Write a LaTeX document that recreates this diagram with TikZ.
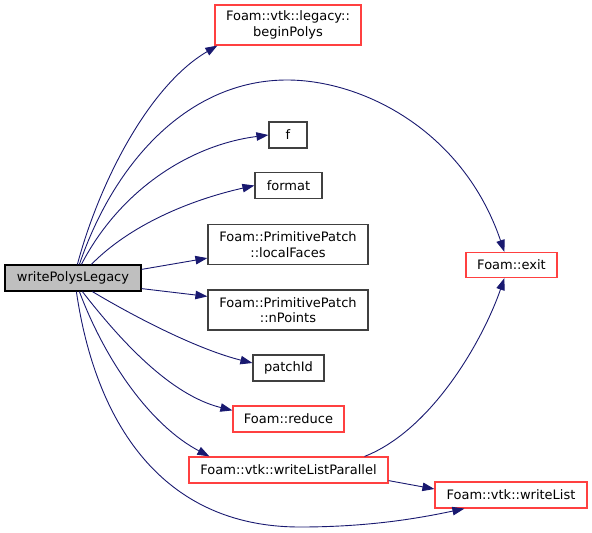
\documentclass[tikz,border=0pt]{standalone}
\usepackage{fontspec}
\setmainfont{DejaVu Sans}
\usetikzlibrary{arrows.meta}
\definecolor{edgec}{RGB}{25,25,112}
\definecolor{redb}{RGB}{255,64,64}
\definecolor{greyb}{RGB}{64,64,64}
\definecolor{mainf}{RGB}{191,191,191}
\begin{document}
\begin{tikzpicture}[x=1pt,y=-1pt,
  box/.style={draw=greyb,line width=1.2pt,fill=white,inner sep=0pt,align=center,
    font=\fontsize{13}{15.5}\selectfont},
  redbox/.style={box,draw=redb},
  mainbox/.style={box,draw=black,fill=mainf},
  edge/.style={draw=edgec,line width=0.9pt,-{Triangle[length=12pt,width=8.5pt]}}]
\useasboundingbox (0,0) rectangle (592,533);
\node[mainbox,minimum width=136pt,minimum height=26pt] (wpl) at (73,278) {writePolysLegacy};
\node[redbox,minimum width=146pt,minimum height=40pt] (bp) at (288,25) {Foam::vtk::legacy::\\beginPolys};
\node[box,minimum width=38pt,minimum height=26pt] (f) at (288,135) {f};
\node[box,minimum width=67pt,minimum height=26pt] (fmt) at (288.5,185.5) {format};
\node[box,minimum width=160pt,minimum height=40pt] (lf) at (288,244.5) {Foam::PrimitivePatch\\::localFaces};
\node[box,minimum width=160pt,minimum height=40pt] (np) at (288,310) {Foam::PrimitivePatch\\::nPoints};
\node[box,minimum width=71pt,minimum height=26pt] (pid) at (288.5,368) {patchId};
\node[redbox,minimum width=111pt,minimum height=26pt] (red) at (288.5,419) {Foam::reduce};
\node[redbox,minimum width=199pt,minimum height=26pt] (wlp) at (288.5,470) {Foam::vtk::writeListParallel};
\node[redbox,minimum width=91pt,minimum height=25pt] (ex) at (511.5,265) {Foam::exit};
\node[redbox,minimum width=152pt,minimum height=26pt] (wl) at (511,495) {Foam::vtk::writeList};

\draw[edge] ([xshift=73pt]wpl.north west) .. controls (100,180) and (150,85) .. ([xshift=3pt]bp.south west);
\draw[edge] ([xshift=75pt]wpl.north west) .. controls (115,160) and (190,80) .. (287,80) .. controls (362,80) and (463,130) .. ([xshift=39pt]ex.north west);
\draw[edge] ([xshift=77pt]wpl.north west) .. controls (120,190) and (190,145) .. (f.west);
\draw[edge] ([xshift=87pt]wpl.north west) .. controls (130,225) and (190,200) .. (fmt.west);
\draw[edge] ([yshift=-5pt]wpl.north east) -- ([yshift=7pt]lf.south west);
\draw[edge] ([yshift=3pt]wpl.south east) -- ([yshift=-7pt]np.north west);
\draw[edge] ([xshift=88pt]wpl.south west) .. controls (140,320) and (200,350) .. ([yshift=5pt]pid.west);
\draw[edge] ([xshift=78pt]wpl.south west) .. controls (120,340) and (170,395) .. ([yshift=-5pt]red.north west);
\draw[edge] ([xshift=75pt]wpl.south west) .. controls (105,360) and (150,425) .. ([xshift=21pt]wlp.north west);
\draw[edge] ([xshift=72pt]wpl.south west) .. controls (95,420) and (160,527) .. (300,527) .. controls (370,527) and (420,518) .. ([xshift=30pt]wl.south west);
\draw[edge] ([xshift=-24pt]wlp.north east) .. controls (432,430) and (483,340) .. ([xshift=39pt]ex.south west);
\draw[edge] ([yshift=3pt]wlp.south east) -- ([yshift=6pt]wl.west);
\end{tikzpicture}
\end{document}
